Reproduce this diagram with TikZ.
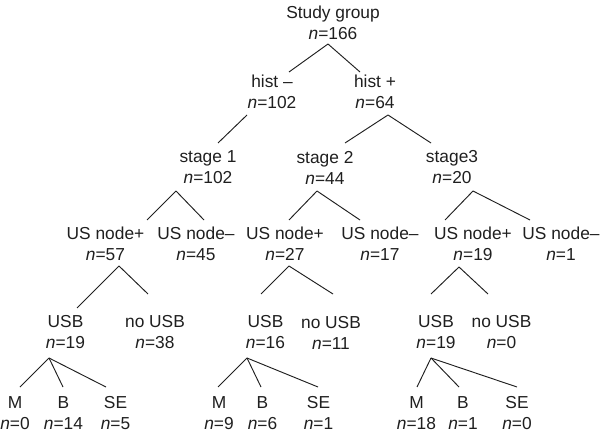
\documentclass[tikz,border=0pt]{standalone}
\usepackage{fontspec}
\setmainfont{Liberation Sans}
\usetikzlibrary{calc}
\tikzset{
  lbl/.style={align=center, inner sep=0pt, text=black!88,
    font=\fontsize{14.8}{17.9}\selectfont},
  link/.style={draw=black!88, line width=0.8pt}
}
\newcommand{\lnk}[6]{\draw[link] ($(#1)+(#2,#3)$) -- ($(#4)+(#5,#6)$);}
\begin{document}
\begin{tikzpicture}[x=0.03cm, y=-0.03cm]
\useasboundingbox (0,0) rectangle (600,433);
% level 0
\node[lbl] (root) at (333,22.5) {Study group\\\textit{n}=166};
% level 1
\node[lbl] (hm) at (272,91.5) {hist --\\\textit{n}=102};
\node[lbl] (hp) at (375,91.5) {hist +\\\textit{n}=64};
% level 2
\node[lbl] (s1) at (208,167.5) {stage 1\\\textit{n}=102};
\node[lbl] (s2) at (325,167.5) {stage 2\\\textit{n}=44};
\node[lbl] (s3) at (452,167.5) {stage3\\\textit{n}=20};
% level 3
\node[lbl] (u1p) at (105.5,244) {US node+\\\textit{n}=57};
\node[lbl] (u1m) at (196,244) {US node--\\\textit{n}=45};
\node[lbl] (u2p) at (285,244) {US node+\\\textit{n}=27};
\node[lbl] (u2m) at (380,244) {US node--\\\textit{n}=17};
\node[lbl] (u3p) at (473,244) {US node+\\\textit{n}=19};
\node[lbl] (u3m) at (561,244) {US node--\\\textit{n}=1};
% level 4
\node[lbl] (b1) at (65.5,332.5) {USB\\\textit{n}=19};
\node[lbl] (nb1) at (155,332.5) {no USB\\\textit{n}=38};
\node[lbl] (b2) at (265.5,332.5) {USB\\\textit{n}=16};
\node[lbl] (nb2) at (331,332.5) {no USB\\\textit{n}=11};
\node[lbl] (b3) at (436,332.5) {USB\\\textit{n}=19};
\node[lbl] (nb3) at (501.5,332.5) {no USB\\\textit{n}=0};
% level 5
\node[lbl] (m1) at (15,413) {M\\\textit{n}=0};
\node[lbl] (bb1) at (63.5,413) {B\\\textit{n}=14};
\node[lbl] (se1) at (115.5,413) {SE\\\textit{n}=5};
\node[lbl] (m2) at (219,413) {M\\\textit{n}=9};
\node[lbl] (bb2) at (262.5,413) {B\\\textit{n}=6};
\node[lbl] (se2) at (318.5,413) {SE\\\textit{n}=1};
\node[lbl] (m3) at (416.5,413) {M\\\textit{n}=18};
\node[lbl] (bb3) at (463,413) {B\\\textit{n}=1};
\node[lbl] (se3) at (517,413) {SE\\\textit{n}=0};
% connectors
\lnk{root}{-5}{21.5}{hm}{17}{-19.5}
\lnk{root}{-5}{21.5}{hp}{-15}{-19.5}
\lnk{hm}{-25}{23.5}{s1}{10}{-24.5}
\lnk{hp}{13}{23.5}{s2}{20}{-24.5}
\lnk{hp}{13}{23.5}{s3}{-21}{-24.5}
\lnk{s1}{-32}{23.5}{u1p}{41.5}{-24}
\lnk{s1}{-32}{23.5}{u1m}{8}{-24}
\lnk{s2}{-8}{23.5}{u2p}{4}{-24}
\lnk{s2}{-8}{23.5}{u2m}{-20}{-24}
\lnk{s3}{21}{23.5}{u3p}{-28}{-24}
\lnk{s3}{21}{23.5}{u3m}{-31}{-24}
\lnk{u1p}{13.5}{22}{b1}{11.5}{-24.5}
\lnk{u1p}{13.5}{22}{nb1}{-7}{-38.5}
\lnk{u2p}{4}{22}{b2}{-4.5}{-38.5}
\lnk{u2p}{4}{22}{nb2}{2}{-38.5}
\lnk{u3p}{-14}{23}{b3}{-5}{-38.5}
\lnk{u3p}{-14}{23}{nb3}{-13.5}{-38.5}
\lnk{b1}{-16.5}{25.5}{m1}{5}{-26}
\lnk{b1}{-16.5}{25.5}{bb1}{-0.5}{-26}
\lnk{b1}{-16.5}{25.5}{se1}{-9.5}{-26}
\lnk{b2}{-18.5}{25.5}{m2}{-1}{-26}
\lnk{b2}{-18.5}{25.5}{bb2}{-1.5}{-26}
\lnk{b2}{-18.5}{25.5}{se2}{-0.5}{-26}
\lnk{b3}{-5}{25.5}{m3}{0.5}{-26}
\lnk{b3}{-5}{25.5}{bb3}{-4}{-26}
\lnk{b3}{-5}{25.5}{se3}{0}{-26}
\end{tikzpicture}
\end{document}
